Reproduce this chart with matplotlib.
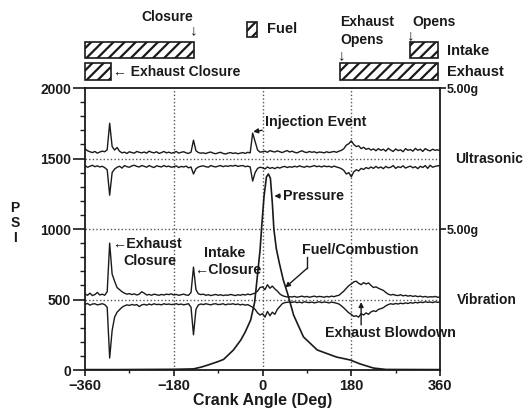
import numpy as np
import matplotlib
matplotlib.use("Agg")
import matplotlib.pyplot as plt
from matplotlib.patches import Rectangle

plt.rcParams["font.family"] = ["Liberation Sans", "DejaVu Sans"]
plt.rcParams["font.weight"] = "bold"
plt.rcParams["hatch.linewidth"] = 1.6

# crank-angle sample grid of the sensor envelopes (deg)
crank_angle = np.arange(-360, 361, 5)

# ultrasonic trace: envelope offsets around its 1500 baseline
ultrasonic_center = 1500
ultrasonic_upper = [
    70, 55, 48, 42, 50, 38, 46, 52, 48, 62, 250, 85,
    60, 78, 52, 40, 45, 36, 48, 42, 38, 50, 44, 40,
    46, 38, 52, 44, 40, 48, 36, 42, 50, 40, 45, 38,
    42, 50, 38, 44, 48, 40, 36, 45, 130, 55, 42, 38,
    40, 35, 42, 46, 38, 34, 40, 44, 36, 32, 38, 42,
    36, 40, 34, 38, 42, 36, 44, 40, 180, 120, 60, 45,
    48, 52, 44, 56, 50, 46, 54, 48, 42, 50, 56, 46,
    52, 44, 40, 48, 55, 46, 42, 50, 44, 48, 40, 46,
    44, 40, 48, 42, 46, 50, 44, 52, 58, 70, 95, 105,
    125, 100, 85, 90, 70, 80, 65, 72, 60, 68, 55, 70,
    58, 66, 52, 72, 60, 50, 68, 56, 62, 48, 70, 58,
    64, 52, 72, 58, 66, 50, 70, 60, 54, 66, 58, 62,
    55,
]
ultrasonic_lower = [
    -50, -62, -55, -48, -58, -52, -60, -55, -65, -80, -260, -100,
    -75, -62, -55, -68, -50, -58, -62, -52, -48, -56, -60, -50,
    -55, -62, -50, -58, -64, -52, -56, -60, -50, -58, -54, -62,
    -58, -52, -64, -56, -60, -54, -66, -60, -110, -72, -60, -55,
    -52, -58, -62, -50, -56, -60, -54, -50, -58, -52, -56, -50,
    -54, -48, -56, -52, -50, -58, -54, -60, -160, -100, -70, -62,
    -66, -74, -60, -70, -64, -72, -62, -68, -60, -56, -64, -58,
    -62, -55, -60, -52, -58, -62, -54, -60, -56, -50, -58, -54,
    -60, -52, -58, -55, -62, -54, -60, -65, -72, -85, -110, -100,
    -130, -95, -80, -88, -70, -78, -64, -72, -60, -70, -56, -68,
    -60, -72, -56, -66, -62, -50, -70, -58, -64, -52, -68, -60,
    -54, -66, -58, -72, -55, -64, -50, -70, -48, -62, -56, -52,
    -50,
]

# vibration trace: envelope offsets around its 500 baseline
vibration_center = 500
vibration_upper = [
    40, 30, 45, 28, 35, 50, 32, 38, 30, 55, 400, 180,
    130, 85, 70, 55, 45, 38, 42, 35, 40, 32, 38, 55,
    45, 32, 36, 30, 38, 34, 30, 36, 32, 38, 35, 40,
    32, 36, 30, 34, 38, 32, 30, 50, 230, 70, 40, 35,
    38, 30, 34, 28, 32, 36, 30, 34, 28, 32, 30, 36,
    32, 28, 34, 30, 36, 32, 38, 34, 40, 45, 60, 85,
    90, 70, 105, 80, 95, 75, 60, 40, 28, 22, 18, 20,
    18, 22, 16, 20, 24, 18, 22, 16, 20, 24, 18, 22,
    20, 16, 22, 18, 24, 20, 26, 30, 45, 60, 80, 98,
    110, 125, 130, 115, 105, 120, 110, 118, 100, 85, 90, 80,
    72, 65, 50, 38, 32, 36, 30, 28, 34, 26, 30, 24,
    28, 22, 26, 20, 24, 18, 22, 16, 20, 18, 22, 16,
    18,
]
vibration_lower = [
    -35, -28, -40, -32, -30, -38, -34, -30, -36, -55, -415, -220,
    -125, -90, -72, -55, -45, -38, -42, -35, -40, -36, -50, -38,
    -34, -40, -32, -38, -30, -36, -34, -38, -30, -35, -32, -36,
    -34, -30, -36, -32, -38, -34, -30, -55, -250, -70, -38, -32,
    -36, -30, -34, -38, -32, -30, -36, -34, -30, -38, -32, -34,
    -30, -36, -32, -38, -34, -40, -36, -45, -55, -70, -95, -110,
    -100, -125, -85, -115, -90, -105, -70, -50, -30, -22, -20, -18,
    -20, -16, -22, -18, -24, -16, -20, -22, -18, -24, -20, -16,
    -22, -18, -20, -24, -18, -22, -26, -32, -45, -60, -78, -95,
    -105, -120, -115, -125, -100, -110, -95, -105, -88, -80, -85, -70,
    -65, -58, -45, -36, -30, -34, -28, -32, -26, -30, -24, -28,
    -22, -26, -20, -24, -18, -22, -16, -20, -18, -22, -16, -20,
    -18,
]

# cylinder pressure (psi) against crank angle (deg)
pressure_angle = [-360, -300, -240, -180, -140, -125, -111, -90, -79, -59,
                  -44, -35, -24, -16, -10, -5, -2, 3, 8, 12, 16, 20, 23,
                  28, 34, 42, 51, 63, 83, 111, 150, 178, 198, 225, 250, 360]
pressure_psi = [3, 3, 4, 5, 8, 20, 35, 60, 75, 142,
                213, 270, 355, 480, 680, 850, 1000, 1230, 1370, 1390, 1360, 1180, 1000,
                860, 760, 640, 540, 390, 235, 142, 92, 71, 43, 14, 4, 3]

x_ticks = [-360, -180, 0, 180, 360]
x_tick_labels = ["\u2212360", "\u2212180", "0", "180", "360"]
y_ticks = [0, 500, 1000, 1500, 2000]
y_tick_labels = ["0", "500", "1000", "1500", "2000"]
g_ticks = [1000, 2000]
g_tick_labels = ["5.00g", "5.00g"]

# valve windows (deg) shown in the strip above the plot
intake_windows = [(-360, -139), (300, 355)]
exhaust_windows = [(-360, -308), (158, 355)]
fuel_key = (-31, -11)

ink = "#1a1a1a"
dots = "#555555"

fig = plt.figure(figsize=(5.29, 4.12), dpi=100)
ax = fig.add_axes([0.1607, 0.1019, 0.6711, 0.6845])
ax.set_xlim(-360, 360)
ax.set_ylim(0, 2000)

# dotted reference lines
for yv in (1500, 1000, 500):
    ax.axhline(yv, color=dots, lw=1.0, ls=(0, (1, 1.6)), zorder=1)
for xv in (-180, 0, 180):
    ax.axvline(xv, color=dots, lw=1.0, ls=(0, (1, 1.6)), zorder=1)

# sensor envelopes
u_up = ultrasonic_center + np.array(ultrasonic_upper)
u_lo = ultrasonic_center + np.array(ultrasonic_lower)
v_up = vibration_center + np.array(vibration_upper)
v_lo = vibration_center + np.array(vibration_lower)
for trace in (u_up, u_lo, v_up, v_lo):
    ax.plot(crank_angle, trace, color=ink, lw=1.0, zorder=3)

# pressure curve
ax.plot(pressure_angle, pressure_psi, color=ink, lw=1.2, zorder=3)

# axes styling
for side in ("left", "right", "top", "bottom"):
    ax.spines[side].set_linewidth(1.3)
    ax.spines[side].set_color(ink)
ax.set_xticks(x_ticks, labels=x_tick_labels)
ax.set_xticks([-270, -90, 90, 270], minor=True)
ax.set_yticks(y_ticks, labels=y_tick_labels)
ax.set_yticks([v for v in range(0, 2001, 100) if v % 500], minor=True)
ax.tick_params(axis="x", which="major", length=4.5, width=1.2, pad=2,
               labelsize=10.5, colors=ink)
ax.tick_params(axis="x", which="minor", length=2.5, width=1.0, colors=ink)
ax.tick_params(axis="y", which="major", length=9, width=1.2, pad=1,
               labelsize=10, colors=ink)
ax.tick_params(axis="y", which="minor", length=3.5, width=1.0, colors=ink)

sec = ax.secondary_yaxis("right")
sec.set_yticks(g_ticks, labels=g_tick_labels)
sec.tick_params(length=4, width=1.2, pad=1, labelsize=9, colors=ink)
sec.spines["right"].set_visible(False)

fig.text(0.5 * (85 + 440) / 529, 1 - 401 / 412, "Crank Angle (Deg)",
         ha="center", va="center", fontsize=11.5, color=ink)
for i, ch in enumerate("PSI"):
    fig.text(15 / 529, 1 - (208 + 15 * i) / 412, ch, ha="center",
             va="center", fontsize=10, color=ink)

ax.text(390, 1500, "Ultrasonic", ha="left", va="center", fontsize=10,
        color=ink, clip_on=False)
ax.text(394, 500, "Vibration", ha="left", va="center", fontsize=10,
        color=ink, clip_on=False)

# event annotations inside the plot
note = 10.3
arrow = dict(arrowstyle="-|>", lw=1.0, color=ink, mutation_scale=7,
             shrinkA=0, shrinkB=0)
ax.annotate("Injection Event", xy=(-19, 1690), xytext=(5, 1760),
            ha="left", va="center", fontsize=note, color=ink, arrowprops=arrow)
ax.annotate("Pressure", xy=(24, 1234), xytext=(42, 1234), ha="left",
            va="center", fontsize=note, color=ink, arrowprops=arrow)
ax.text(81, 851, "Fuel/Combustion", ha="left", va="center", fontsize=note,
        color=ink)
ax.plot([91, 91], [800, 723], color=ink, lw=1.0)
ax.annotate("", xy=(46, 585), xytext=(91, 723), arrowprops=arrow)
ax.text(127, 262, "Exhaust Blowdown", ha="left", va="center", fontsize=note,
        color=ink)
ax.annotate("", xy=(200, 482), xytext=(200, 320), arrowprops=arrow)
ax.text(-305, 893, "←Exhaust", ha="left", va="center", fontsize=note,
        color=ink)
ax.text(-283, 773, "Closure", ha="left", va="center", fontsize=note,
        color=ink)
ax.text(-77, 830, "Intake", ha="center", va="center", fontsize=note,
        color=ink)
ax.text(-138, 709, "←Closure", ha="left", va="center", fontsize=note,
        color=ink)

# valve timing strip above the plot
def hatched(x0, x1, y0, y1):
    ax.add_patch(Rectangle((x0, y0), x1 - x0, y1 - y0, facecolor="white",
                           edgecolor=ink, hatch="///", lw=1.2, clip_on=False))

for x0, x1 in intake_windows:
    hatched(x0, x1, 2212, 2326)
for x0, x1 in exhaust_windows:
    hatched(x0, x1, 2057, 2177)
hatched(fuel_key[0], fuel_key[1], 2364, 2469)

hdr = dict(va="center", fontsize=10, color=ink, clip_on=False)
ax.text(-194, 2503, "Closure", ha="center", **hdr)
ax.text(-139, 2411, "↓", ha="center", **{**hdr, "fontsize": 11})
ax.text(10, 2418, "Fuel", ha="left", **{**hdr, "fontsize": 10.5})
ax.text(158, 2467, "Exhaust", ha="left", **hdr)
ax.text(158, 2340, "Opens", ha="left", **hdr)
ax.text(160, 2230, "↓", ha="center", **{**hdr, "fontsize": 11})
ax.text(303, 2467, "Opens", ha="left", **hdr)
ax.text(301, 2372, "↓", ha="center", **{**hdr, "fontsize": 11})
ax.text(374, 2262, "Intake", ha="left", **{**hdr, "fontsize": 10.5})
ax.text(374, 2113, "Exhaust", ha="left", **{**hdr, "fontsize": 10.5})
ax.text(-303, 2113, "← Exhaust Closure", ha="left", **hdr)

fig.savefig("out.png", dpi=100, facecolor="white")
